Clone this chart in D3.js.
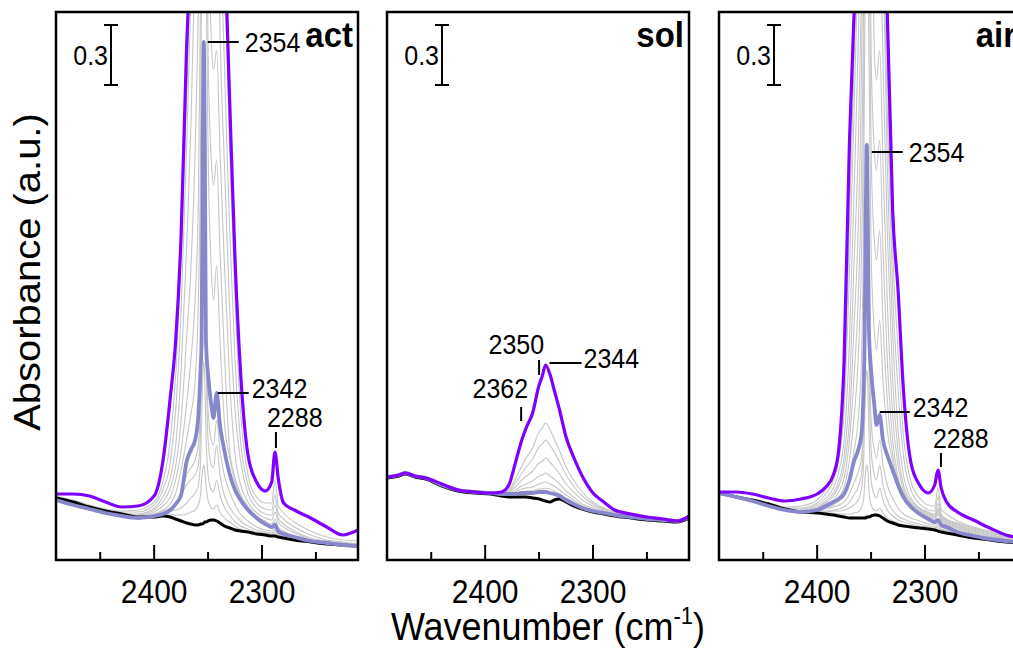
<!DOCTYPE html>
<html>
<head>
<meta charset="utf-8">
<script src="https://cdn.jsdelivr.net/npm/d3@7"></script>
<style>
  html, body { margin: 0; padding: 0; background: #fff; }
  svg { display: block; font-family: "Liberation Sans", Arial, sans-serif; }
</style>
</head>
<body>
<svg width="1013" height="649"></svg>
<script>
// wavenumber grid (cm-1) for act / air panels
const wn = [2491, 2475, 2460, 2445, 2430, 2415, 2400, 2392, 2385, 2380, 2375, 2370, 2366, 2362, 2359, 2357, 2356, 2355, 2354, 2353, 2352, 2350, 2347, 2345, 2342, 2339, 2335, 2330, 2325, 2320, 2313, 2305, 2297, 2291, 2288, 2285, 2280, 2270, 2255, 2240, 2225, 2211];
// wavenumber grid for sol panel
const wnSol = [2491, 2480, 2474, 2465, 2455, 2440, 2425, 2410, 2395, 2385, 2378, 2372, 2366, 2362, 2356, 2350, 2347, 2344, 2340, 2336, 2331, 2325, 2318, 2310, 2300, 2290, 2280, 2265, 2250, 2235, 2222, 2211];

// ---- act ----
const actBlack = [.31,.29,.265,.245,.23,.215,.215,.22,.215,.205,.195,.185,.18,.175,.175,.18,.18,.18,.185,.19,.19,.195,.2,.2,.195,.185,.17,.16,.15,.145,.14,.13,.125,.12,.12,.115,.11,.1,.09,.08,.075,.07];
const actLav = [.3,.275,.255,.235,.22,.21,.22,.23,.25,.28,.325,.49,.55,.6,.725,.95,1.1,2.05,2.59,2.05,1.1,.925,.775,.71,.835,.675,.55,.43,.35,.3,.25,.21,.18,.165,.175,.145,.13,.115,.095,.085,.075,.07];
const actPurple = [.33,.33,.32,.29,.265,.27,.32,.49,.815,1.1,1.625,2.55,3.1,3.4,3.6,3.7,3.75,3.8,3.8,3.8,3.8,3.75,3.7,3.65,3.6,3.4,3.1,2.3,1.5,.95,.525,.39,.345,.39,.54,.41,.285,.25,.21,.165,.125,.15];
const actGray = [
  [.31,.29,.265,.245,.23,.215,.22,.23,.23,.225,.225,.23,.24,.25,.275,.325,.4,.45,.475,.45,.375,.3,.26,.255,.275,.24,.21,.19,.17,.155,.145,.135,.13,.125,.13,.12,.115,.105,.09,.08,.075,.07],
  [.31,.29,.265,.245,.23,.215,.225,.24,.245,.25,.26,.285,.31,.335,.375,.5,.7,.9,1.0,.9,.65,.425,.35,.34,.4,.325,.265,.225,.19,.17,.155,.14,.135,.13,.14,.125,.12,.11,.095,.085,.075,.07],
  [.305,.285,.26,.24,.225,.215,.225,.245,.26,.285,.325,.375,.4,.425,.475,.65,1.1,1.55,1.8,1.55,1.1,.6,.475,.46,.575,.425,.325,.265,.225,.195,.17,.15,.14,.135,.15,.13,.125,.11,.095,.085,.075,.07],
  [.305,.28,.26,.24,.225,.21,.22,.235,.25,.275,.315,.425,.46,.5,.575,.8,1.3,1.9,2.2,1.9,1.3,.75,.6,.575,.7,.55,.425,.34,.275,.23,.195,.165,.15,.145,.16,.135,.125,.11,.095,.085,.075,.07],
  [.305,.285,.26,.24,.225,.215,.23,.25,.28,.335,.45,.6,.725,.9,1.3,2.05,3.05,3.55,3.8,3.55,3.05,2.05,1.45,1.3,1.475,1.1,.7,.51,.39,.32,.26,.21,.18,.165,.19,.155,.14,.115,.095,.085,.075,.07],
  [.305,.285,.26,.245,.23,.22,.24,.27,.315,.4,.55,.775,1.0,1.3,1.8,2.8,3.8,4.3,4.55,4.3,3.8,2.55,2.0,1.875,2.0,1.55,1.05,.55,.41,.33,.27,.22,.195,.18,.205,.165,.145,.12,.1,.085,.075,.07],
  [.31,.285,.26,.245,.23,.225,.25,.29,.36,.47,.7,1.1,1.45,2.05,2.8,3.8,4.3,4.8,4.8,4.8,4.3,3.3,2.6,2.45,2.55,2.05,1.5,.9,.525,.38,.29,.235,.21,.2,.24,.19,.165,.135,.105,.09,.08,.07],
  [.31,.29,.265,.245,.235,.23,.26,.315,.41,.575,.95,1.55,2.15,3.05,3.8,4.4,4.8,5.0,5.1,5.0,4.9,4.7,4.3,4.0,3.7,2.65,2.0,1.25,.75,.5,.33,.26,.23,.225,.275,.21,.18,.145,.11,.095,.085,.075],
  [.315,.29,.265,.25,.24,.24,.275,.35,.49,.75,1.25,2.05,2.8,3.6,4.1,4.6,4.9,5.1,5.2,5.1,5.0,4.8,4.5,4.2,3.8,3.2,2.5,1.65,1.0,.6,.375,.285,.255,.25,.325,.235,.205,.165,.125,.1,.09,.08],
  [.32,.3,.275,.255,.245,.25,.29,.39,.6,.925,1.55,2.3,3.0,4.0,4.4,4.8,5.1,5.3,5.4,5.3,5.2,5.1,4.9,4.6,4.3,3.8,3.0,2.05,1.3,.75,.425,.315,.285,.285,.4,.275,.235,.19,.145,.115,.1,.095]
];

// ---- sol ----
const solBlack = [.41,.42,.43,.415,.405,.37,.345,.335,.33,.32,.315,.315,.315,.315,.31,.305,.3,.295,.29,.3,.305,.29,.27,.255,.24,.23,.22,.21,.2,.195,.19,.21];
const solLav = [.415,.425,.435,.42,.41,.375,.35,.34,.335,.33,.33,.33,.335,.335,.335,.34,.34,.34,.335,.33,.32,.3,.28,.26,.245,.235,.225,.215,.205,.2,.195,.215];
const solPurple = [.415,.425,.435,.42,.41,.38,.35,.34,.335,.34,.375,.485,.6,.66,.735,.875,.92,.975,.93,.85,.75,.615,.515,.42,.335,.29,.25,.23,.215,.205,.195,.22];
const solGray = [
  [.415,.425,.435,.42,.41,.375,.35,.34,.335,.33,.33,.335,.34,.345,.345,.355,.355,.36,.355,.345,.33,.31,.29,.265,.25,.235,.225,.215,.205,.2,.195,.215],
  [.415,.425,.435,.42,.41,.375,.35,.34,.335,.33,.33,.34,.355,.36,.365,.38,.385,.39,.38,.37,.35,.325,.3,.27,.25,.235,.225,.215,.205,.2,.195,.215],
  [.415,.425,.435,.42,.41,.375,.35,.34,.335,.33,.335,.35,.37,.38,.395,.42,.425,.435,.42,.405,.38,.345,.315,.28,.26,.245,.225,.215,.205,.2,.195,.215],
  [.415,.425,.435,.42,.41,.375,.35,.34,.335,.33,.34,.365,.4,.42,.445,.485,.495,.51,.49,.465,.43,.38,.34,.3,.27,.25,.23,.215,.205,.2,.195,.215],
  [.415,.425,.435,.42,.41,.375,.35,.34,.335,.335,.345,.385,.435,.465,.505,.565,.58,.6,.575,.54,.49,.425,.37,.32,.28,.255,.235,.22,.205,.2,.195,.215],
  [.415,.425,.435,.42,.41,.375,.35,.34,.335,.335,.35,.405,.47,.51,.56,.64,.66,.685,.655,.605,.545,.465,.4,.34,.29,.26,.24,.225,.21,.2,.195,.215]
];

// ---- air ----
const airBlack = [.335,.315,.3,.28,.255,.24,.235,.23,.225,.22,.215,.21,.21,.21,.21,.21,.21,.21,.215,.215,.215,.22,.225,.225,.22,.21,.195,.185,.175,.17,.165,.16,.155,.15,.145,.14,.135,.125,.11,.1,.09,.085];
const airLav = [.335,.315,.295,.27,.25,.24,.25,.27,.29,.305,.33,.4,.49,.55,.625,.85,1.1,1.7,2.075,1.7,1.15,.95,.775,.675,.725,.6,.525,.45,.375,.315,.265,.23,.205,.19,.2,.175,.165,.14,.12,.105,.095,.09];
const airPurple = [.34,.34,.33,.31,.295,.305,.33,.365,.425,.55,1.0,2.1,2.7,3.1,3.4,3.6,3.7,3.75,3.8,3.8,3.75,3.7,3.6,3.5,3.4,3.1,2.74,1.75,1.35,.85,.485,.375,.335,.375,.45,.36,.29,.24,.2,.16,.125,.11];
const airGray = [
  [.335,.315,.3,.28,.255,.24,.235,.235,.235,.23,.23,.23,.235,.24,.26,.3,.375,.45,.475,.45,.35,.275,.25,.245,.26,.235,.21,.195,.185,.175,.17,.165,.16,.155,.155,.145,.14,.13,.115,.1,.09,.085],
  [.335,.315,.3,.28,.255,.24,.24,.24,.245,.245,.25,.26,.275,.3,.35,.475,.7,.875,.95,.875,.65,.4,.325,.31,.36,.3,.25,.22,.2,.19,.18,.17,.165,.16,.165,.15,.145,.135,.115,.1,.09,.085],
  [.335,.315,.295,.275,.255,.24,.24,.245,.25,.255,.265,.29,.325,.365,.425,.65,1.05,1.3,1.4,1.3,.95,.55,.425,.4,.475,.375,.3,.25,.22,.205,.19,.18,.17,.165,.175,.155,.15,.135,.115,.1,.09,.085],
  [.335,.315,.295,.275,.25,.24,.245,.255,.265,.275,.29,.33,.385,.44,.51,.75,1.2,1.6,1.8,1.6,1.2,.7,.55,.51,.6,.475,.375,.31,.26,.23,.21,.195,.18,.175,.185,.165,.155,.14,.12,.105,.095,.085],
  [.335,.315,.295,.275,.25,.24,.245,.26,.275,.295,.33,.425,.54,.7,1.0,1.7,2.55,3.05,3.3,3.05,2.55,1.55,1.15,1.05,1.2,.9,.65,.49,.385,.32,.27,.235,.215,.205,.225,.195,.175,.155,.13,.11,.1,.09],
  [.335,.315,.295,.275,.25,.24,.25,.265,.285,.315,.365,.5,.7,1.0,1.5,2.3,3.3,3.8,4.05,3.8,3.3,2.05,1.6,1.5,1.65,1.2,.8,.525,.4,.325,.275,.24,.22,.21,.235,.2,.18,.16,.135,.115,.1,.09],
  [.335,.315,.295,.275,.255,.245,.255,.275,.3,.34,.41,.6,.9,1.3,1.9,2.8,3.8,4.3,4.3,4.3,3.8,2.55,2.05,1.95,2.1,1.55,1.0,.6,.415,.335,.28,.245,.225,.215,.245,.205,.185,.165,.14,.12,.1,.09],
  [.335,.315,.295,.275,.255,.245,.26,.285,.32,.37,.465,.7,1.15,1.65,2.4,3.4,4.0,4.4,4.5,4.4,4.0,3.3,2.55,2.4,2.55,2.0,1.3,.725,.475,.35,.285,.25,.23,.22,.25,.21,.19,.17,.145,.125,.105,.09],
  [.335,.315,.295,.275,.255,.25,.265,.295,.335,.395,.515,.85,1.45,2.05,2.8,3.5,4.1,4.5,4.7,4.6,4.5,4.1,3.5,3.05,3.2,2.5,1.65,.9,.54,.375,.295,.255,.235,.225,.26,.215,.195,.175,.15,.13,.11,.095],
  [.335,.315,.295,.28,.26,.255,.275,.31,.36,.44,.6,1.1,1.8,2.55,3.3,3.9,4.4,4.7,4.9,4.8,4.7,4.4,4.0,3.7,3.5,3.05,2.0,1.15,.65,.425,.31,.26,.24,.23,.28,.22,.2,.18,.155,.135,.115,.1],
  [.34,.32,.3,.28,.26,.26,.285,.33,.395,.5,.75,1.45,2.2,3.0,3.6,4.2,4.7,5.0,5.2,5.0,4.9,4.7,4.4,4.1,3.9,3.2,2.25,1.35,.85,.525,.35,.28,.25,.245,.315,.23,.205,.185,.16,.14,.12,.105],
  [.34,.32,.3,.285,.265,.27,.3,.35,.43,.52,.8,1.7,2.45,3.3,3.9,4.4,4.9,5.2,5.4,5.5,5.4,5.3,5.1,4.8,4.5,4.0,2.5,1.55,1.05,.625,.39,.31,.275,.27,.36,.255,.23,.195,.165,.145,.125,.11]
];

const majorTicks = [2400, 2300];
const minorTicks = [2450, 2350, 2250];
const scaleBar = 0.3;

const svg = d3.select("svg");
const panelW = 302, plotTop = 12, plotBottom = 560;
const stretch = 1.08; // text in the figure is slightly tall
const colGray = "#c6c6c6", colLav = "#8787cc", colPurple = "#7f00ff";

const y = d3.scaleLinear().domain([0, 2.74]).range([plotBottom, plotTop]);

const panels = [
  { left: 56, name: "act", wn: wn, black: actBlack, lav: actLav, purple: actPurple, gray: actGray,
    notes: [
      { t: "2354", w: 2354, a: 2.59, line: [4, 0, 35, 0], tx: 41, ty: 10, anchor: "start" },
      { t: "2342", w: 2342, a: .835, line: [1, 0, 32, 0], tx: 35, ty: 5, anchor: "start" },
      { t: "2288", w: 2288, a: .56, line: [1, 0, 1, -16], tx: -8, ty: -21, anchor: "start" }
    ] },
  { left: 387, name: "sol", wn: wnSol, black: solBlack, lav: solLav, purple: solPurple, gray: solGray,
    notes: [
      { t: "2350", w: 2350, a: .925, line: [0, 0, 0, -15], tx: 5, ty: -21, anchor: "end" },
      { t: "2344", w: 2344, a: .985, line: [4, 0, 36, 0], tx: 38, ty: 5, anchor: "start" },
      { t: "2362", w: 2362, a: .695, line: [-5, 0, -5, -14], tx: 2, ty: -23, anchor: "end" }
    ] },
  { left: 719, name: "air", wn: wn, black: airBlack, lav: airLav, purple: airPurple, gray: airGray,
    notes: [
      { t: "2354", w: 2354, a: 2.04, line: [5, 0, 36, 0], tx: 42, ty: 10, anchor: "start" },
      { t: "2342", w: 2342, a: .74, line: [0, 0, 30, 0], tx: 33, ty: 5, anchor: "start" },
      { t: "2288", w: 2288, a: .465, line: [3, 0, 3, -14], tx: -5, ty: -19, anchor: "start" }
    ] }
];

function addText(sel, x, yy, txt, size, anchor, weight) {
  return sel.append("text")
    .attr("transform", `translate(${x},${yy}) scale(1,${stretch})`)
    .attr("text-anchor", anchor || "start")
    .attr("font-size", size)
    .attr("font-weight", weight || "normal")
    .attr("fill", "#000")
    .text(txt);
}

panels.forEach(p => {
  const x = d3.scaleLinear().domain([2491, 2211]).range([p.left, p.left + panelW]);
  const g = svg.append("g");
  const clipId = "clip-" + p.name;
  svg.append("clipPath").attr("id", clipId)
    .append("rect")
    .attr("x", p.left).attr("y", plotTop)
    .attr("width", panelW).attr("height", plotBottom - plotTop);

  const line = d3.line()
    .x((d, i) => x(p.wn[i]))
    .y(d => y(d))
    .curve(d3.curveMonotoneX);

  const curves = g.append("g").attr("clip-path", `url(#${clipId})`).attr("fill", "none");
  curves.selectAll(".gray")
    .data(p.gray)
    .join("path")
    .attr("class", "gray")
    .attr("d", line)
    .attr("stroke", colGray)
    .attr("stroke-width", 1.1);
  curves.append("path").attr("d", line(p.black)).attr("stroke", "#000").attr("stroke-width", 3);
  curves.append("path").attr("d", line(p.lav)).attr("stroke", colLav).attr("stroke-width", 3.8);
  curves.append("path").attr("d", line(p.purple)).attr("stroke", colPurple).attr("stroke-width", 3.2);

  // frame
  g.append("rect")
    .attr("x", p.left).attr("y", plotTop)
    .attr("width", panelW).attr("height", plotBottom - plotTop)
    .attr("fill", "none").attr("stroke", "#000").attr("stroke-width", 2.5);

  // inward ticks on bottom axis
  g.selectAll(".major")
    .data(majorTicks)
    .join("line")
    .attr("x1", d => x(d)).attr("x2", d => x(d))
    .attr("y1", plotBottom).attr("y2", plotBottom - 15)
    .attr("stroke", "#000").attr("stroke-width", 2);
  g.selectAll(".minor")
    .data(minorTicks)
    .join("line")
    .attr("x1", d => x(d)).attr("x2", d => x(d))
    .attr("y1", plotBottom).attr("y2", plotBottom - 8)
    .attr("stroke", "#000").attr("stroke-width", 2);
  majorTicks.forEach(t => addText(g, x(t), 603, String(t), 30, "middle"));

  // 0.3 scale bar
  const bx = p.left + 55;
  const bTop = 25, bBot = bTop + (y(0) - y(scaleBar));
  g.append("line").attr("x1", bx).attr("x2", bx).attr("y1", bTop).attr("y2", bBot)
    .attr("stroke", "#000").attr("stroke-width", 2);
  [bTop, bBot].forEach(v => g.append("line")
    .attr("x1", bx - 7).attr("x2", bx + 7).attr("y1", v).attr("y2", v)
    .attr("stroke", "#000").attr("stroke-width", 2));
  addText(g, bx - 3, 65, String(scaleBar), 25, "end");

  // panel name
  addText(g, p.left + panelW - 5, 47, p.name, 33, "end", "bold");

  // peak labels
  p.notes.forEach(n => {
    const px = x(n.w), py = y(n.a);
    g.append("line")
      .attr("x1", px + n.line[0]).attr("y1", py + n.line[1])
      .attr("x2", px + n.line[2]).attr("y2", py + n.line[3])
      .attr("stroke", "#000").attr("stroke-width", 2);
    addText(g, px + n.tx, py + n.ty, n.t, 25, n.anchor);
  });
});

// axis titles
const xt = svg.append("text")
  .attr("transform", `translate(548,640) scale(1,${stretch})`)
  .attr("text-anchor", "middle")
  .attr("font-size", 36);
xt.append("tspan").text("Wavenumber (cm");
xt.append("tspan").attr("font-size", 22).attr("dy", -15).text("-1");
xt.append("tspan").attr("dy", 15).text(")");

svg.append("text")
  .attr("transform", `translate(40,272) scale(1,${stretch}) rotate(-90)`)
  .attr("text-anchor", "middle")
  .attr("font-size", 37)
  .text("Absorbance (a.u.)");
</script>
</body>
</html>
